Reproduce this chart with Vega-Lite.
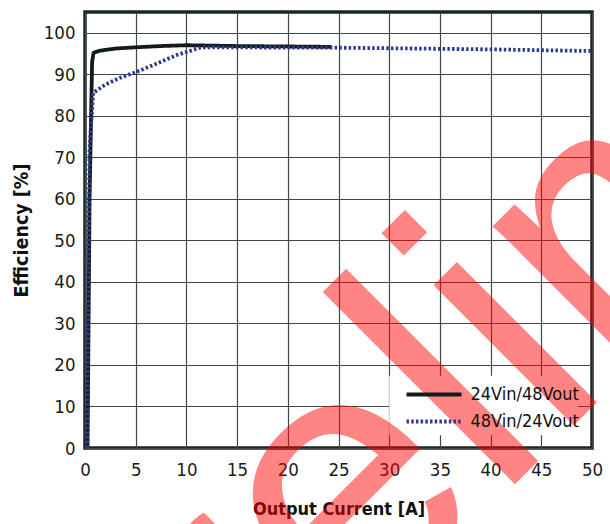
{
  "$schema": "https://vega.github.io/schema/vega-lite/v6.json",
  "width": 507,
  "height": 436,
  "autosize": {"type": "none"},
  "padding": {"left": 85, "top": 12, "right": 18, "bottom": 76},
  "background": "white",
  "config": {
    "view": {"stroke": "#1b2626", "strokeWidth": 3.5},
    "font": "DejaVu Sans Condensed",
    "axis": {
      "grid": true,
      "gridColor": "#3f4747",
      "gridOpacity": 1,
      "gridWidth": 1.2,
      "ticks": false,
      "domain": false,
      "labelFont": "DejaVu Sans Condensed",
      "labelFontSize": 18.5,
      "labelColor": "#1a1a1a",
      "labelOverlap": false,
      "labelFlush": false,
      "titleFont": "DejaVu Sans Condensed",
      "titleFontWeight": "bold",
      "titleColor": "#111111"
    }
  },
  "datasets": {
    "curves": [
      {"series": "24Vin/48Vout", "current": 0.25, "efficiency": 0},
      {"series": "24Vin/48Vout", "current": 0.45, "efficiency": 60},
      {"series": "24Vin/48Vout", "current": 0.7, "efficiency": 93},
      {"series": "24Vin/48Vout", "current": 0.85, "efficiency": 95.2},
      {"series": "24Vin/48Vout", "current": 1.5, "efficiency": 95.7},
      {"series": "24Vin/48Vout", "current": 3, "efficiency": 96.2},
      {"series": "24Vin/48Vout", "current": 5, "efficiency": 96.5},
      {"series": "24Vin/48Vout", "current": 7.5, "efficiency": 96.8},
      {"series": "24Vin/48Vout", "current": 10, "efficiency": 97.0},
      {"series": "24Vin/48Vout", "current": 15, "efficiency": 96.8},
      {"series": "24Vin/48Vout", "current": 20, "efficiency": 96.7},
      {"series": "24Vin/48Vout", "current": 24.3, "efficiency": 96.6},
      {"series": "48Vin/24Vout", "current": 0.2, "efficiency": 0},
      {"series": "48Vin/24Vout", "current": 0.45, "efficiency": 72},
      {"series": "48Vin/24Vout", "current": 0.8, "efficiency": 85.5},
      {"series": "48Vin/24Vout", "current": 2, "efficiency": 87.5},
      {"series": "48Vin/24Vout", "current": 3.5, "efficiency": 89.2},
      {"series": "48Vin/24Vout", "current": 5, "efficiency": 90.5},
      {"series": "48Vin/24Vout", "current": 7, "efficiency": 92.5},
      {"series": "48Vin/24Vout", "current": 9, "efficiency": 94.6},
      {"series": "48Vin/24Vout", "current": 11.5, "efficiency": 96.5},
      {"series": "48Vin/24Vout", "current": 25, "efficiency": 96.4},
      {"series": "48Vin/24Vout", "current": 40, "efficiency": 96.0},
      {"series": "48Vin/24Vout", "current": 50, "efficiency": 95.6}
    ],
    "watermark": [{"label": "Preliminary"}]
  },
  "layer": [
    {
      "data": {"name": "watermark"},
      "mark": {"type": "rect", "fill": "white", "stroke": null},
      "encoding": {
        "x": {"datum": 30.0, "type": "quantitative"},
        "x2": {"datum": 48.6},
        "y": {"datum": 17.4, "type": "quantitative"},
        "y2": {"datum": 3.1}
      }
    },
    {
      "data": {"name": "curves"},
      "mark": {"type": "line", "strokeJoin": "round", "strokeWidth": 3.8},
      "encoding": {
        "x": {
          "field": "current",
          "type": "quantitative",
          "scale": {"domain": [0, 50], "nice": false, "zero": false},
          "axis": {
            "values": [0, 5, 10, 15, 20, 25, 30, 35, 40, 45, 50],
            "labelPadding": 12,
            "title": "Output Current [A]",
            "titleFontSize": 18,
            "titlePadding": 22
          }
        },
        "y": {
          "field": "efficiency",
          "type": "quantitative",
          "scale": {"domain": [0, 105], "nice": false, "zero": false},
          "axis": {
            "values": [0, 10, 20, 30, 40, 50, 60, 70, 80, 90, 100],
            "labelPadding": 10,
            "title": "Efficiency [%]",
            "titleFontSize": 19.5,
            "titlePadding": 12
          }
        },
        "color": {
          "field": "series",
          "type": "nominal",
          "scale": {"domain": ["24Vin/48Vout", "48Vin/24Vout"], "range": ["#121c1c", "#2d3a8e"]},
          "legend": {
            "title": null,
            "orient": "none",
            "legendX": 304,
            "legendY": 363,
            "padding": 7.5,
            "symbolType": "M-2.75,0H2.75",
            "symbolSize": 400,
            "symbolStrokeWidth": 3.8,
            "symbolOffset": 25.5,
            "labelOffset": 24.5,
            "labelFont": "DejaVu Sans Condensed",
            "labelFontSize": 18,
            "labelColor": "#111111",
            "rowPadding": 6
          }
        },
        "strokeDash": {
          "field": "series",
          "type": "nominal",
          "scale": {"domain": ["24Vin/48Vout", "48Vin/24Vout"], "range": [[1, 0], [2.5, 2.2]]},
          "legend": {
            "title": null,
            "orient": "none",
            "legendX": 304,
            "legendY": 363,
            "padding": 7.5,
            "symbolType": "M-2.75,0H2.75",
            "symbolSize": 400,
            "symbolStrokeWidth": 3.8,
            "symbolOffset": 25.5,
            "labelOffset": 24.5,
            "labelFont": "DejaVu Sans Condensed",
            "labelFontSize": 18,
            "labelColor": "#111111",
            "rowPadding": 6
          }
        }
      }
    },
    {
      "data": {"name": "watermark"},
      "mark": {
        "type": "text",
        "font": "Liberation Sans",
        "fontSize": 375,
        "angle": 315,
        "align": "left",
        "baseline": "alphabetic",
        "color": "#ff0000",
        "opacity": 0.48
      },
      "encoding": {
        "text": {"field": "label"},
        "x": {"datum": -0.06, "type": "quantitative"},
        "y": {"datum": -112.4, "type": "quantitative"}
      }
    }
  ]
}
